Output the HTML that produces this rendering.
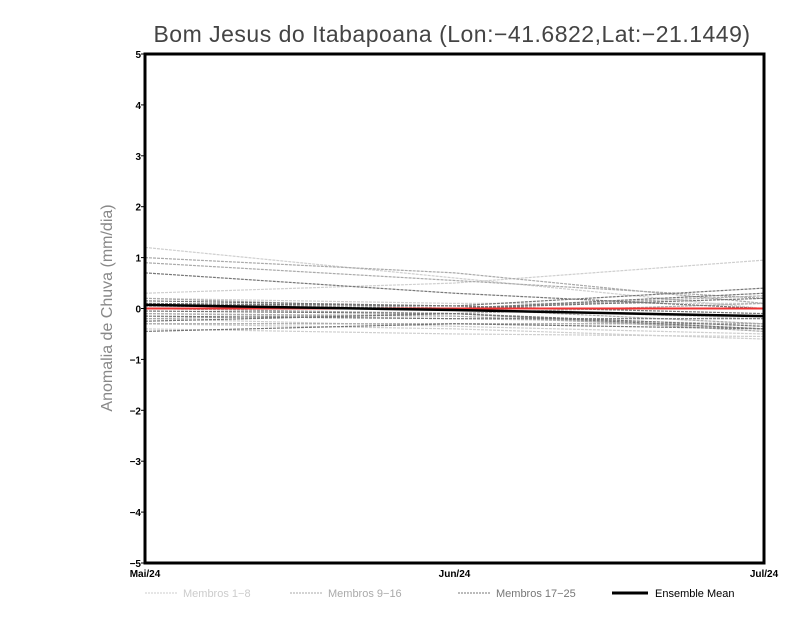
<!DOCTYPE html>
<html><head><meta charset="utf-8"><style>
body{margin:0;background:#fff;width:800px;height:618px;overflow:hidden;font-family:"Liberation Sans",sans-serif}
</style></head><body>
<svg id="chart" width="800" height="618" xmlns="http://www.w3.org/2000/svg">
<text x="452" y="42" text-anchor="middle" font-size="23" fill="#444" font-family="Liberation Sans,sans-serif" letter-spacing="0.5">Bom Jesus do Itabapoana (Lon:−41.6822,Lat:−21.1449)</text>
<text transform="translate(112,308) rotate(-90)" text-anchor="middle" font-size="16" fill="#888">Anomalia de Chuva (mm/dia)</text>
<g id="series"></g>
<rect x="145" y="54" width="619" height="509" fill="none" stroke="#000" stroke-width="3"/>
<g id="axes"></g>
<g font-size="11">
<line x1="145" y1="593" x2="177" y2="593" stroke="#ccc" stroke-dasharray="2,1"/><text x="183" y="597" fill="#ccc">Membros 1−8</text>
<line x1="290" y1="593" x2="322" y2="593" stroke="#aaa" stroke-dasharray="2,1"/><text x="328" y="597" fill="#aaa">Membros 9−16</text>
<line x1="458" y1="593" x2="490" y2="593" stroke="#777" stroke-dasharray="2,1"/><text x="496" y="597" fill="#777">Membros 17−25</text>
<line x1="612" y1="593" x2="648" y2="593" stroke="#000" stroke-width="3"/><text x="655" y="597" fill="#000">Ensemble Mean</text>
</g>
</svg>
<script>
const categories=["Mai/24","Jun/24","Jul/24"];
const yTicks=[5,4,3,2,1,0,-1,-2,-3,-4,-5];
const membros1_8=[[1.2,0.6,0.0],[0.3,0.5,0.95],[-0.3,-0.4,-0.6],[-0.2,-0.35,-0.5],[0.1,0.0,-0.2],[-0.4,-0.5,-0.55],[0.2,0.1,0.1],[-0.1,-0.2,-0.3]];
const membros9_16=[[1.0,0.7,0.1],[0.9,0.55,0.2],[0.2,0.0,-0.3],[-0.1,-0.15,-0.4],[0.1,0.0,0.25],[-0.3,-0.3,-0.3],[0.0,-0.1,0.1],[-0.2,-0.1,-0.45]];
const membros17_25=[[0.7,0.3,0.0],[0.15,0.05,0.4],[-0.05,-0.1,-0.35],[-0.15,-0.2,-0.2],[0.05,0.0,0.3],[-0.45,-0.3,-0.4],[0.0,0.0,0.2],[-0.25,-0.1,-0.4],[0.1,0.05,-0.1]];
const ensembleMean=[0.07,-0.03,-0.15];
const zeroLine=[0,0,0];
const NS="http://www.w3.org/2000/svg";
const x=i=>145+i*(619/(categories.length-1));
const y=v=>308.5-v*50.9;
const S=document.getElementById('series'),A=document.getElementById('axes');
function line(vals,color,w,dash,name){const p=document.createElementNS(NS,'polyline');
p.setAttribute('points',vals.map((v,i)=>x(i)+','+y(v)).join(' '));
p.setAttribute('fill','none');p.setAttribute('stroke',color);p.setAttribute('stroke-width',w);
if(dash)p.setAttribute('stroke-dasharray',dash);


S.appendChild(p);}
membros1_8.forEach((m,i)=>line(m,'#cfcfcf',1.2,'3,1','member-'+(i+1)));
membros9_16.forEach((m,i)=>line(m,'#aaa',1.2,'3,1','member-'+(i+9)));
membros17_25.forEach((m,i)=>line(m,'#777',1.2,'3,1','member-'+(i+17)));
line(zeroLine,'#e33',2,null,'zero-line');
line(ensembleMean,'#000',2.5,null,'ensemble-mean-line');
yTicks.forEach(t=>{const tx=document.createElementNS(NS,'text');
tx.setAttribute('x',141);tx.setAttribute('y',y(t)+4);tx.setAttribute('text-anchor','end');
tx.setAttribute('font-size','10');tx.setAttribute('font-weight','bold');tx.textContent=String(t).replace('-','−');


A.appendChild(tx);
const l=document.createElementNS(NS,'line');l.setAttribute('x1',141);l.setAttribute('x2',145);
l.setAttribute('y1',y(t));l.setAttribute('y2',y(t));l.setAttribute('stroke','#000');


A.appendChild(l);});
categories.forEach((c,i)=>{const tx=document.createElementNS(NS,'text');
tx.setAttribute('x',x(i));tx.setAttribute('y',577);
tx.setAttribute('text-anchor',i==0?'middle':(i==categories.length-1?'middle':'middle'));
tx.setAttribute('font-size','10');tx.setAttribute('font-weight','bold');tx.textContent=c;


A.appendChild(tx);});
</script>
</body></html>
